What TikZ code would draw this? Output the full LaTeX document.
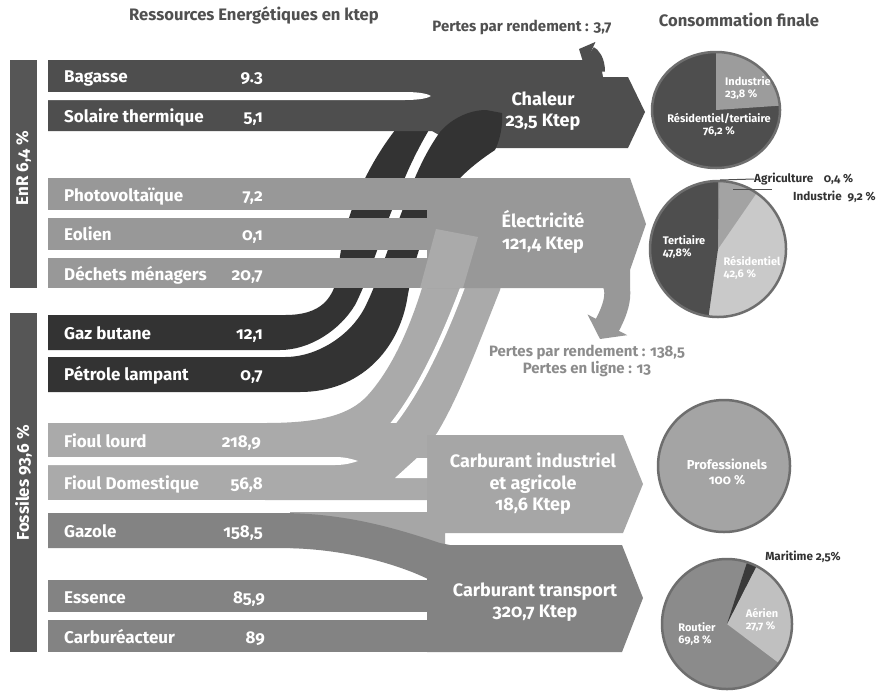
\documentclass[tikz,border=0pt]{standalone}
\usepackage{fontspec}
\setmainfont{Fira Sans}[Numbers=OldStyle]
\usetikzlibrary{arrows.meta}
\definecolor{cchal}{HTML}{4E4E4E}
\definecolor{cdark}{HTML}{333333}
\definecolor{celec}{HTML}{989898}
\definecolor{cfioul}{HTML}{AAAAAA}
\definecolor{cind}{HTML}{A6A6A6}
\definecolor{ctrans}{HTML}{838383}
\definecolor{cside}{HTML}{565656}
\definecolor{ctitle}{HTML}{505050}
\definecolor{closs}{HTML}{8C8C8C}
\definecolor{cpieline}{HTML}{6E6E6E}
\definecolor{cpieA}{HTML}{9C9C9C}
\definecolor{cpieRes}{HTML}{C9C9C9}
\definecolor{cpieInd}{HTML}{A3A3A3}
\definecolor{cpieAgr}{HTML}{8A8A8A}
\definecolor{cpieRout}{HTML}{8B8B8B}
\definecolor{cpieAer}{HTML}{C0C0C0}
\definecolor{cpieMar}{HTML}{3A3A3A}
\definecolor{cpiePro}{HTML}{A4A4A4}
\begin{document}
\begin{tikzpicture}[x=1pt,y=-1pt,
  barlbl/.style={anchor=base west, inner sep=0pt, text=white, font=\fontsize{17}{18}\selectfont\bfseries},
  barval/.style={anchor=base east, inner sep=0pt, text=white, font=\fontsize{17}{18}\selectfont\bfseries},
  flowlbl/.style={inner sep=0pt, text=white, align=center, font=\fontsize{18}{21.5}\selectfont\bfseries},
  sidelbl/.style={rotate=90, inner sep=0pt, text=white, font=\fontsize{17}{18}\selectfont\bfseries},
  titlelbl/.style={inner sep=0pt, text=ctitle, font=\fontsize{16.6}{18}\selectfont\bfseries},
  losslbl/.style={inner sep=0pt, align=center, font=\fontsize{15}{17.5}\selectfont\bfseries},
  pielbl/.style={inner sep=0pt, text=white, align=left, font=\fontsize{11}{12.5}\selectfont\bfseries},
  piekey/.style={inner sep=0pt, text=cdark, font=\fontsize{11.7}{13}\selectfont\bfseries},
  pieout/.style={draw=cpieline, line width=2.5pt},
]
\useasboundingbox (0,0) rectangle (882,691);
\fill[white] (0,0) rectangle (882,691);

% ---- dark band (butane) going up to Chaleur
\fill[cdark] (48,315) -- (285,315) .. controls (320,315) and (336,300) .. (339,265)
  .. controls (342,230) and (360,170) .. (405,118) -- (435,120)
  .. controls (410,160) and (400,190) .. (392,210)
  .. controls (380,240) and (368,280) .. (355,305)
  .. controls (340,330) and (310,350) .. (280,350) -- (48,350) -- cycle;

% ---- light bands (fioul) going up to Electricite
\fill[cfioul] (265,423) .. controls (320,423) and (350,415) .. (368,395)
  .. controls (395,365) and (412,320) .. (422,288) -- (424,270) -- (505,270) -- (500,290)
  .. controls (480,340) and (460,395) .. (437,433) -- (427,446) -- (427,500) -- (265,500) -- cycle;
\draw[white, line width=4.5pt] (381,437) .. controls (410,408) and (440,350) .. (466,278);

% ---- Chaleur
\fill[cchal] (48,60) -- (600,60) -- (603,77) -- (628,77) -- (645,112) -- (628,148)
  -- (462,148) -- (432,131) -- (48,131) -- cycle;
\fill[white] (48,92) -- (405,92) .. controls (420,92) and (428,94) .. (431,96)
  .. controls (428,98) and (420,100) .. (405,100) -- (48,100) -- cycle;
\draw[cchal, line width=16pt, -{Triangle[width=26pt,length=12pt]}]
  (597,72) .. controls (597,60) and (592,55) .. (579,49);

% ---- dark band (petrole), its top end reaching into Chaleur
\fill[cdark] (48,357) -- (285,357) .. controls (318,357) and (350,335) .. (364,309)
  .. controls (377,284) and (389,245) .. (401,214)
  .. controls (410,190) and (420,160) .. (440,132)
  .. controls (452,118) and (470,110) .. (486,110) -- (502,113)
  .. controls (503,125) and (500,140) .. (495,150)
  .. controls (480,160) and (470,168) .. (460,178)
  .. controls (430,205) and (414,258) .. (407,300)
  .. controls (398,350) and (360,392) .. (300,392) -- (48,392) -- cycle;

% ---- Electricite
\fill[celec] (48,178) rectangle (427,210);
\fill[celec] (48,218) rectangle (427,250);
\fill[celec] (48,258) rectangle (427,288);
\fill[celec] (427,178) -- (630,178) -- (646,224) -- (630,270) -- (630,288) -- (427,288) -- cycle;
\draw[celec, line width=26pt, -{Triangle[width=44pt,length=16pt]}]
  (606,272) .. controls (628,286) and (612,316) .. (600,339);
\fill[cfioul] (420,288) -- (436,229) -- (478,237) -- (463,288) -- cycle;

% ---- Fioul bars and Carburant industriel
\fill[cfioul] (48,423) rectangle (427,457);
\fill[cfioul] (48,465) rectangle (427,500);
\fill[white] (48,457) -- (335,457) .. controls (345,457) and (352,459) .. (358,461)
  .. controls (352,463) and (345,465) .. (335,465) -- (48,465) -- cycle;
\fill[cind] (427,435) -- (623,435) -- (643,484) -- (623,533) -- (445,533) -- (445,548)
  -- (290,548) -- (290,512) -- (427,512) -- cycle;
\fill[white] (395,478) -- (417,458) -- (427,458) -- (427,478) -- cycle;

% ---- Gazole, Essence, Carbureacteur, Carburant transport
\fill[ctrans] (48,513) -- (280,513) .. controls (345,513) and (395,528) .. (440,543) -- (450,545)
  -- (450,582) -- (430,580) .. controls (400,565) and (345,548) .. (280,548) -- (48,548) -- cycle;
\fill[ctrans] (48,580) rectangle (427,612);
\fill[ctrans] (48,620) rectangle (427,652);
\fill[ctrans] (427,545) -- (622,545) -- (643,598) -- (622,652) -- (427,652) -- cycle;

% ---- side bars
\fill[cside] (10,60) rectangle (37,288);
\fill[cside] (10,313) rectangle (37,652);
\node[sidelbl] (enr) at (23.5,168) {EnR 6,4 \%};
\node[sidelbl] (foss) at (23.5,483) {Fossiles 93,6 \%};

% ---- titles
\node[titlelbl] (t1) at (254,15) {Ressources Energétiques en ktep};
\node[titlelbl] (t2) at (739,20) {Consommation finale};
\node[losslbl, text=ctitle] (loss1) at (522,27) {Pertes par rendement : 3,7};
\node[losslbl, text=closs] (loss2) at (587,361) {Pertes par rendement : 138,5\\Pertes en ligne : 13};

% ---- bar labels
\node[barlbl] (lbag) at (64,82) {Bagasse};
\node[barval] (vbag) at (263,82) {9.3};
\node[barlbl] (lsol) at (64,122) {Solaire thermique};
\node[barval] (vsol) at (263,122) {5,1};
\node[barlbl] (lpv) at (64,201) {Photovoltaïque};
\node[barval] (vpv) at (263,201) {7,2};
\node[barlbl] (leol) at (64,240) {Eolien};
\node[barval] (veol) at (263,240) {0,1};
\node[barlbl] (ldec) at (64,280) {Déchets ménagers};
\node[barval] (vdec) at (263,280) {20,7};
\node[barlbl] (lgaz) at (64,339) {Gaz butane};
\node[barval] (vgaz) at (263,339) {12,1};
\node[barlbl] (lpet) at (64,380) {Pétrole lampant};
\node[barval] (vpet) at (263,380) {0,7};
\node[barlbl] (lfl) at (64,447) {Fioul lourd};
\node[barval] (vfl) at (261,447) {218,9};
\node[barlbl] (lfd) at (64,489) {Fioul Domestique};
\node[barval] (vfd) at (263,489) {56,8};
\node[barlbl] (lgo) at (64,537) {Gazole};
\node[barval] (vgo) at (263,537) {158,5};
\node[barlbl] (les) at (64,603) {Essence};
\node[barval] (ves) at (265,603) {85,9};
\node[barlbl] (lcar) at (64,643) {Carburéacteur};
\node[barval] (vcar) at (265,643) {89};

% ---- flow labels
\node[flowlbl] (tchal) at (543,111) {Chaleur\\23,5 Ktep};
\node[flowlbl] (telec) at (543,232) {Électricité\\121,4 Ktep};
\node[flowlbl] (tind) at (533,484) {Carburant industriel\\et agricole\\18,6 Ktep};
\node[flowlbl] (ttra) at (535,602) {Carburant transport\\320,7 Ktep};

% ---- pie 1 : chaleur
\begin{scope}[shift={(716,110)}]
  \fill[cchal] (0,0) ellipse [x radius=64pt, y radius=58pt];
  \fill[cpieA] (0,0) -- (90:64pt and 58pt) arc[start angle=90, end angle=4.3, x radius=64pt, y radius=58pt] -- cycle;
  \draw[pieout] (0,0) ellipse [x radius=64pt, y radius=58pt];
\end{scope}
\node[pielbl] (p1a) at (748,88) {Industrie\\23,8 \%};
\node[pielbl, align=center] (p1b) at (719,125) {Résidentiel/tertiaire\\76,2 \%};

% ---- pie 2 : electricite
\begin{scope}[shift={(718,249)}]
  \fill[cpieRes] (0,0) circle[radius=68pt];
  \fill[cchal] (0,0) -- (90:68pt) arc[start angle=90, end angle=262, radius=68pt] -- cycle;
  \fill[cpieInd] (0,0) -- (55.4:68pt) arc[start angle=55.4, end angle=88.6, radius=68pt] -- cycle;
  \fill[cpieAgr] (0,0) -- (88.6:68pt) arc[start angle=88.6, end angle=90, radius=68pt] -- cycle;
  \draw[pieout] (0,0) circle[radius=68pt];
\end{scope}
\node[pielbl] (p2a) at (684,247) {Tertiaire\\47,8\%};
\node[pielbl] (p2b) at (752,268) {Résidentiel\\42,6 \%};
\node[piekey, anchor=west] (p2c) at (754,179) {Agriculture\enspace\, 0,4 \%};
\node[piekey, anchor=west] (p2d) at (793,197) {Industrie\enspace 9,2 \%};
\coordinate (agriend) at (720,180);
\coordinate (indA) at (733,189);
\coordinate (indB) at (772,189);
\draw[ctitle, line width=1pt] (agriend) -- (p2c.west);
\draw[ctitle, line width=1pt] (indA) -- (indB);

% ---- pie 3 : professionels
\begin{scope}[shift={(724,466)}]
  \fill[cpiePro] (0,0) circle[radius=66pt];
  \draw[pieout] (0,0) circle[radius=66pt];
\end{scope}
\node[pielbl, align=center, font=\fontsize{13}{15}\selectfont\bfseries] (p3) at (727,472) {Professionels\\100 \%};

% ---- pie 4 : transport
\begin{scope}[shift={(727,624)}]
  \fill[cpieRout] (0,0) circle[radius=65pt];
  \fill[cpieAer] (0,0) -- (-37:65pt) arc[start angle=-37, end angle=63, radius=65pt] -- cycle;
  \fill[cpieMar] (0,0) -- (63:65pt) arc[start angle=63, end angle=72, radius=65pt] -- cycle;
  \draw[pieout] (0,0) circle[radius=65pt];
\end{scope}
\node[piekey] (p4m) at (803,557) {Maritime 2,5\%};
\node[pielbl] (p4a) at (762,620) {Aérien\\27,7 \%};
\node[pielbl] (p4r) at (697,634) {Routier\\69,8 \%};
\end{tikzpicture}
\end{document}
